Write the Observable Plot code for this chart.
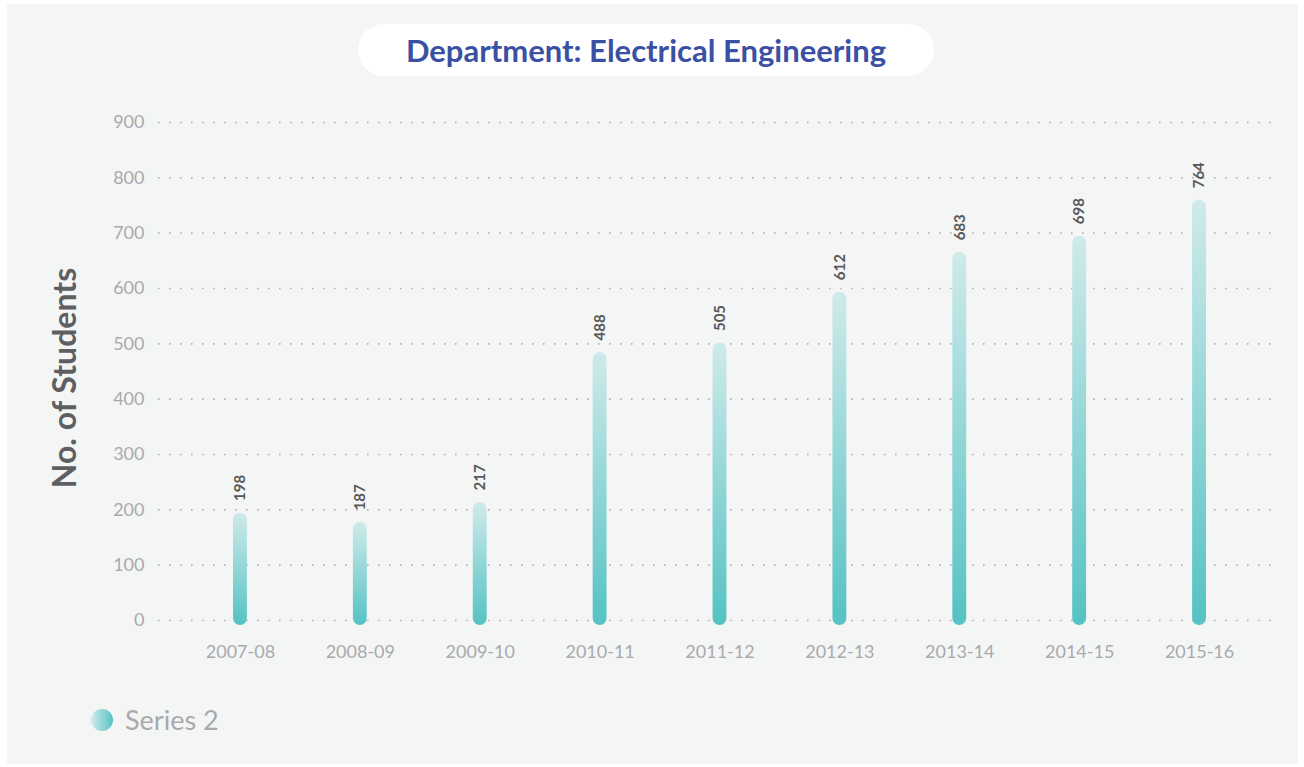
<!DOCTYPE html>
<html>
<head>
<meta charset="utf-8">
<script src="https://cdn.jsdelivr.net/npm/d3@7"></script>
<script src="https://cdn.jsdelivr.net/npm/@observablehq/plot@0.6"></script>
<style>
  html, body { margin: 0; padding: 0; background: #ffffff; }
  #page { position: relative; width: 1304px; height: 767px; overflow: hidden; font-family: Lato, "Open Sans", sans-serif; }
  #panel { position: absolute; left: 7px; top: 4px; width: 1291px; height: 760px; background: #f4f6f5; }
  #pill { position: absolute; left: 358px; top: 24px; width: 576px; height: 52px; border-radius: 26px; background: #ffffff;
          display: flex; align-items: center; justify-content: center; }
  #pill span { font-family: Lato, sans-serif; font-weight: 700; font-size: 31px; color: #3a51a3; }
  #chart { position: absolute; left: 0; top: 100px; }
  #ylabel { position: absolute; left: 63px; top: 378px; transform: translate(-50%, -50%) rotate(-90deg); white-space: nowrap;
            font-family: Lato, sans-serif; font-weight: 700; font-size: 32px; color: #5f5f61; }
  #legend { position: absolute; left: 91px; top: 703px; display: flex; align-items: center; }
  #legend .dot { width: 22px; height: 22px; border-radius: 50%; background: linear-gradient(to right, #d2ecec, #55c2c3); }
  #legend .lab { margin-left: 12px; font-family: Lato, sans-serif; font-size: 27px; color: #a9a9ae; }
</style>
</head>
<body>
<div id="page">
  <div id="panel"></div>
  <div id="pill"><span id="title"></span></div>
  <div id="chart"></div>
  <div id="ylabel"></div>
  <div id="legend"><div class="dot"></div><div class="lab" id="legendLabel"></div></div>
</div>
<script>
const titleText = "Department: Electrical Engineering";
const yAxisTitle = "No. of Students";
const seriesName = "Series 2";
const years = ["2007-08", "2008-09", "2009-10", "2010-11", "2011-12", "2012-13", "2013-14", "2014-15", "2015-16"];
// bar heights as drawn in the reference
const barValues = [198, 181, 217, 488, 505, 597, 669, 698, 763];
// data labels as printed in the reference
const labelValues = ["198", "187", "217", "488", "505", "612", "683", "698", "764"];
const yTicks = [0, 100, 200, 300, 400, 500, 600, 700, 800, 900];

document.getElementById("title").textContent = titleText;
document.getElementById("ylabel").textContent = yAxisTitle;
document.getElementById("legendLabel").textContent = seriesName;

const data = years.map((y, i) => ({year: y, value: barValues[i], label: labelValues[i]}));

const chart = Plot.plot({
  width: 1304,
  height: 580,
  marginLeft: 158,
  marginRight: 30,
  marginTop: 22,
  marginBottom: 60,
  style: { background: "transparent", fontFamily: "Lato, sans-serif", fontSize: "18px", color: "#a9a9ae" },
  x: { domain: years, range: [180, 1259], padding: 0, round: false, tickSize: 0, tickPadding: 25, label: null },
  y: { domain: [0, 900], ticks: yTicks, tickSize: 0, tickPadding: 14, label: null, tickFormat: d => String(d) },
  marks: [
    Plot.ruleY(yTicks, { stroke: "#b3b3b6", strokeWidth: 1.6, strokeDasharray: "1.6 9.4" }),
    Plot.barY(data, { x: "year", y: "value", fill: "url(#barGrad)", rx: 7, insetLeft: 53, insetRight: 53, dy: 2, insetBottom: -3 }),
    Plot.text(data, { x: "year", y: "value", text: "label", rotate: -90, textAnchor: "start", lineAnchor: "middle",
                      dy: -10, fill: "#58585a", fontWeight: 700, fontSize: 15 })
  ]
});

const svgSel = d3.select(chart.tagName.toLowerCase() === "svg" ? chart : chart.querySelector("svg"));
const defs = svgSel.insert("defs", ":first-child");
const grad = defs.append("linearGradient").attr("id", "barGrad").attr("x1", 0).attr("y1", 1).attr("x2", 0).attr("y2", 0);
grad.append("stop").attr("offset", "0%").attr("stop-color", "#55c2c3");
grad.append("stop").attr("offset", "100%").attr("stop-color", "#cfeaea");

document.getElementById("chart").appendChild(chart);
</script>
</body>
</html>
